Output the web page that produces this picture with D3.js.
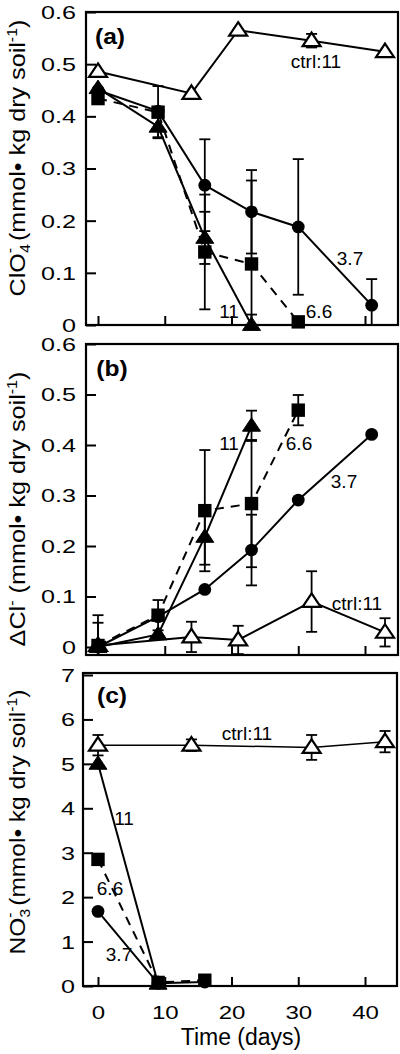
<!DOCTYPE html>
<html><head><meta charset="utf-8">
<script src="https://cdn.jsdelivr.net/npm/d3@7/dist/d3.min.js"></script>
<style>html,body{margin:0;padding:0;background:#fff;}svg{display:block;}</style>
</head><body>
<svg id="chart" width="400" height="1054"></svg>
<script>
// ---------- DATA ----------
const xTicks = [0, 10, 20, 30, 40];
const xTickLabels = ["0", "10", "20", "30", "40"];

// Panel (a) ClO4-
const aTicks = [0, 0.1, 0.2, 0.3, 0.4, 0.5, 0.6];
const aTickLabels = ["0", "0.1", "0.2", "0.3", "0.4", "0.5", "0.6"];
const aCtrlDays = [0, 14, 21, 32, 43];
const aCtrlVals = [0.486, 0.444, 0.565, 0.545, 0.524];
const aCtrlErr  = [0, 0, 0, 0.013, 0];
const a11Days = [0, 9, 16, 23];
const a11Vals = [0.454, 0.38, 0.167, 0];
const a11Err  = [0, 0.02, 0.05, 0.02];
const a66Days = [0, 9, 16, 23, 30];
const a66Vals = [0.434, 0.408, 0.14, 0.117, 0.006];
const a66Err  = [0, 0.05, 0.11, 0.16, 0];
const a37Days = [0, 9, 16, 23, 30, 41];
const a37Vals = [0.45, 0.41, 0.268, 0.217, 0.188, 0.038];
const a37Err  = [0, 0, 0.088, 0.08, 0.13, 0.05];

// Panel (b) delta Cl-
const bTicks = [0, 0.1, 0.2, 0.3, 0.4, 0.5, 0.6];
const bTickLabels = ["0", "0.1", "0.2", "0.3", "0.4", "0.5", "0.6"];
const bCtrlDays = [0, 14, 21, 32, 43];
const bCtrlVals = [0.003, 0.02, 0.014, 0.09, 0.029];
const bCtrlErr  = [0.045, 0.03, 0.028, 0.06, 0.028];
const b11Days = [0, 9, 16, 23];
const b11Vals = [0, 0.025, 0.218, 0.438];
const b11Err  = [0, 0, 0.055, 0.03];
const b66Days = [0, 9, 16, 23, 30];
const b66Vals = [0.003, 0.063, 0.27, 0.284, 0.469];
const b66Err  = [0.06, 0.03, 0.12, 0.126, 0.03];
const b37Days = [0, 9, 16, 23, 30, 41];
const b37Vals = [0, 0.06, 0.114, 0.192, 0.291, 0.421];
const b37Err  = [0, 0, 0, 0.07, 0, 0];

// Panel (c) NO3-
const cTicks = [0, 1, 2, 3, 4, 5, 6, 7];
const cTickLabels = ["0", "1", "2", "3", "4", "5", "6", "7"];
const cCtrlDays = [0, 14, 32, 43];
const cCtrlVals = [5.42, 5.42, 5.37, 5.5];
const cCtrlErr  = [0.23, 0.13, 0.28, 0.24];
const c11Days = [0, 9];
const c11Vals = [5.0, 0.05];
const c11Err  = [0, 0];
const c66Days = [0, 9, 16];
const c66Vals = [2.85, 0.08, 0.13];
const c66Err  = [0, 0, 0];
const c37Days = [0, 9, 16];
const c37Vals = [1.68, 0.06, 0.09];
const c37Err  = [0, 0, 0];

// ---------- DRAW ----------
const svg = d3.select("#chart");
const FONT = "'Liberation Sans', Arial, Helvetica, sans-serif";
const x = d3.scaleLinear().domain([0, 40]).range([98, 365]);

function zip(days, vals, errs) {
  return days.map((d, i) => ({ d, v: vals[i], e: errs[i] }));
}

function panel(cfg) {
  const g = svg.append("g");
  const y = d3.scaleLinear().domain(cfg.domain).range(cfg.range);
  const clipId = "clip" + cfg.id;
  svg.append("clipPath").attr("id", clipId).append("rect")
    .attr("x", cfg.left).attr("y", cfg.top).attr("width", cfg.right - cfg.left).attr("height", cfg.bottom - cfg.top);

  // ticks
  const yAxis = d3.axisLeft(y).tickValues(cfg.ticks).tickSize(-10)
    .tickFormat((d, i) => cfg.tickLabels[i]);
  const ya = g.append("g").attr("transform", `translate(${cfg.left},0)`).call(yAxis);
  ya.select(".domain").remove();
  ya.selectAll("line").attr("stroke", "#000").attr("stroke-width", 2);
  ya.selectAll("text").attr("x", 0).attr("dy", "0.35em")
    .attr("transform", `translate(${-cfg.pad},0) scale(1.36,1)`)
    .style("font-family", FONT).style("font-size", "18.5px").attr("fill", "#000");

  const xAxis = d3.axisBottom(x).tickValues(xTicks).tickSize(-9)
    .tickFormat((d, i) => cfg.showX ? xTickLabels[i] : "");
  const xa = g.append("g").attr("transform", `translate(0,${cfg.bottom})`).call(xAxis);
  xa.select(".domain").remove();
  xa.selectAll("line").attr("stroke", "#000").attr("stroke-width", 2);
  xa.selectAll("text").attr("y", 0).attr("dy", 0)
    .attr("transform", `translate(0,33) scale(1.3,1)`)
    .style("font-family", FONT).style("font-size", "18.5px").attr("fill", "#000");

  const plot = g.append("g").attr("clip-path", `url(#${clipId})`);
  const line = d3.line().x(p => x(p.d)).y(p => y(p.v));

  // lines
  cfg.series.forEach(s => {
    plot.append("path").datum(s.data).attr("d", line)
      .attr("fill", "none").attr("stroke", "#000")
      .attr("stroke-width", s.lw || 2)
      .attr("stroke-dasharray", s.dash ? "9,7" : null);
  });
  // error bars
  cfg.series.forEach(s => {
    s.data.filter(p => p.e > 0).forEach(p => {
      const px = x(p.d), y1 = y(p.v + p.e), y0 = y(p.v - p.e);
      plot.append("line").attr("x1", px).attr("x2", px).attr("y1", y1).attr("y2", y0)
        .attr("stroke", "#000").attr("stroke-width", 1.8);
      [y1, y0].forEach(yy => plot.append("line").attr("x1", px - 5.5).attr("x2", px + 5.5)
        .attr("y1", yy).attr("y2", yy).attr("stroke", "#000").attr("stroke-width", 1.8));
    });
  });
  // markers
  cfg.series.forEach(s => {
    s.data.forEach(p => {
      const px = x(p.d), py = y(p.v);
      if (s.m === "circle") {
        g.append("circle").attr("cx", px).attr("cy", py).attr("r", 6.4).attr("fill", "#000");
      } else if (s.m === "square") {
        g.append("rect").attr("x", px - 6.7).attr("y", py - 6.7).attr("width", 13.4).attr("height", 13.4).attr("fill", "#000");
      } else {
        const w = 9, h = 13.5;
        const pts = [[px, py - h * 0.6], [px + w, py + h * 0.4], [px - w, py + h * 0.4]];
        g.append("polygon").attr("points", pts.map(q => q.join(",")).join(" "))
          .attr("fill", s.m === "tri" ? "#000" : "#fff")
          .attr("stroke", "#000").attr("stroke-width", s.m === "tri" ? 1 : 2.2)
          .attr("stroke-linejoin", "miter");
      }
    });
  });

  // frame
  g.append("rect").attr("x", cfg.left).attr("y", cfg.top)
    .attr("width", cfg.right - cfg.left).attr("height", cfg.bottom - cfg.top)
    .attr("fill", "none").attr("stroke", "#000").attr("stroke-width", 2.2);

  // panel letter
  g.append("text").attr("transform", `translate(${cfg.letter[1]},${cfg.letter[2]}) scale(1.12,1)`)
    .attr("text-anchor", "middle").style("font-family", FONT).style("font-weight", "bold")
    .style("font-size", "22px").text(cfg.letter[0]);

  // annotations
  cfg.notes.forEach(n => {
    g.append("text").attr("x", n[1]).attr("y", n[2]).attr("text-anchor", "middle")
      .style("font-family", FONT).style("font-size", "19px").text(n[0]);
  });

  // y title
  const t = g.append("text").attr("text-anchor", "middle")
    .style("font-family", FONT).style("font-size", "22px");
  cfg.title.forEach(part => {
    const ts = t.append("tspan").text(part.t);
    if (part.dx) ts.attr("dx", part.dx);
    if (part.dy) ts.attr("dy", part.dy);
    if (part.fs) ts.style("font-size", part.fs + "px");
  });
  const bw = t.node().getBBox().width;
  const s = cfg.titleLen / bw;
  t.attr("transform", `translate(25,${cfg.titleCenter}) rotate(-90) scale(${s},1)`);
}

const ttlA = [
  { t: "ClO" }, { t: "4", dy: 5, fs: 14 }, { t: "-", dx: -8, dy: -15, fs: 14 },
  { t: " (mmol\u2022 kg dry soil", dy: 10, fs: 22 }, { t: "-1", dy: -8, fs: 14 }, { t: ")", dy: 8, fs: 22 }
];
const ttlB = [
  { t: "\u0394Cl" }, { t: "-", dy: -8, fs: 14 },
  { t: " (mmol\u2022 kg dry soil", dy: 8, fs: 22 }, { t: "-1", dy: -8, fs: 14 }, { t: ")", dy: 8, fs: 22 }
];
const ttlC = [
  { t: "NO" }, { t: "3", dy: 5, fs: 14 }, { t: "-", dx: -8, dy: -15, fs: 14 },
  { t: " (mmol\u2022 kg dry soil", dy: 10, fs: 22 }, { t: "-1", dy: -8, fs: 14 }, { t: ")", dy: 8, fs: 22 }
];

panel({
  id: "a", domain: [0, 0.6], range: [325, 12], left: 86, right: 398, top: 12, bottom: 325, pad: 10,
  ticks: aTicks, tickLabels: aTickLabels, showX: false,
  series: [
    { data: zip(aCtrlDays, aCtrlVals, aCtrlErr), m: "otri" },
    { data: zip(a37Days, a37Vals, a37Err), m: "circle" },
    { data: zip(a66Days, a66Vals, a66Err), m: "square", dash: true },
    { data: zip(a11Days, a11Vals, a11Err), m: "tri" }
  ],
  letter: ["(a)", 110, 44],
  notes: [["ctrl:11", 316, 68], ["3.7", 350, 265], ["6.6", 319, 318], ["11", 229, 318]],
  title: ttlA, titleLen: 277, titleCenter: 158
});

panel({
  id: "b", domain: [0, 0.6], range: [647, 344], left: 86, right: 398, top: 344, bottom: 655, pad: 10,
  ticks: bTicks, tickLabels: bTickLabels, showX: false,
  series: [
    { data: zip(bCtrlDays, bCtrlVals, bCtrlErr), m: "otri" },
    { data: zip(b37Days, b37Vals, b37Err), m: "circle" },
    { data: zip(b66Days, b66Vals, b66Err), m: "square", dash: true },
    { data: zip(b11Days, b11Vals, b11Err), m: "tri" }
  ],
  letter: ["(b)", 112, 376],
  notes: [["11", 229, 450], ["6.6", 299, 450], ["3.7", 344, 488], ["ctrl:11", 357, 610]],
  title: ttlB, titleLen: 275, titleCenter: 509
});

panel({
  id: "c", domain: [0, 7], range: [986, 675], left: 83, right: 397, top: 673, bottom: 986, pad: 8,
  ticks: cTicks, tickLabels: cTickLabels, showX: true,
  series: [
    { data: zip(cCtrlDays, cCtrlVals, cCtrlErr), m: "otri", lw: 1.5 },
    { data: zip(c37Days, c37Vals, c37Err), m: "circle" },
    { data: zip(c66Days, c66Vals, c66Err), m: "square", dash: true },
    { data: zip(c11Days, c11Vals, c11Err), m: "tri" }
  ],
  letter: ["(c)", 112, 703],
  notes: [["ctrl:11", 247, 740], ["11", 124, 825], ["6.6", 110, 895], ["3.7", 119, 961]],
  title: ttlC, titleLen: 265, titleCenter: 822
});

svg.append("text").attr("x", 241).attr("y", 1045).attr("text-anchor", "middle")
  .style("font-family", FONT).style("font-size", "23px").text("Time (days)");
</script>
</body></html>
